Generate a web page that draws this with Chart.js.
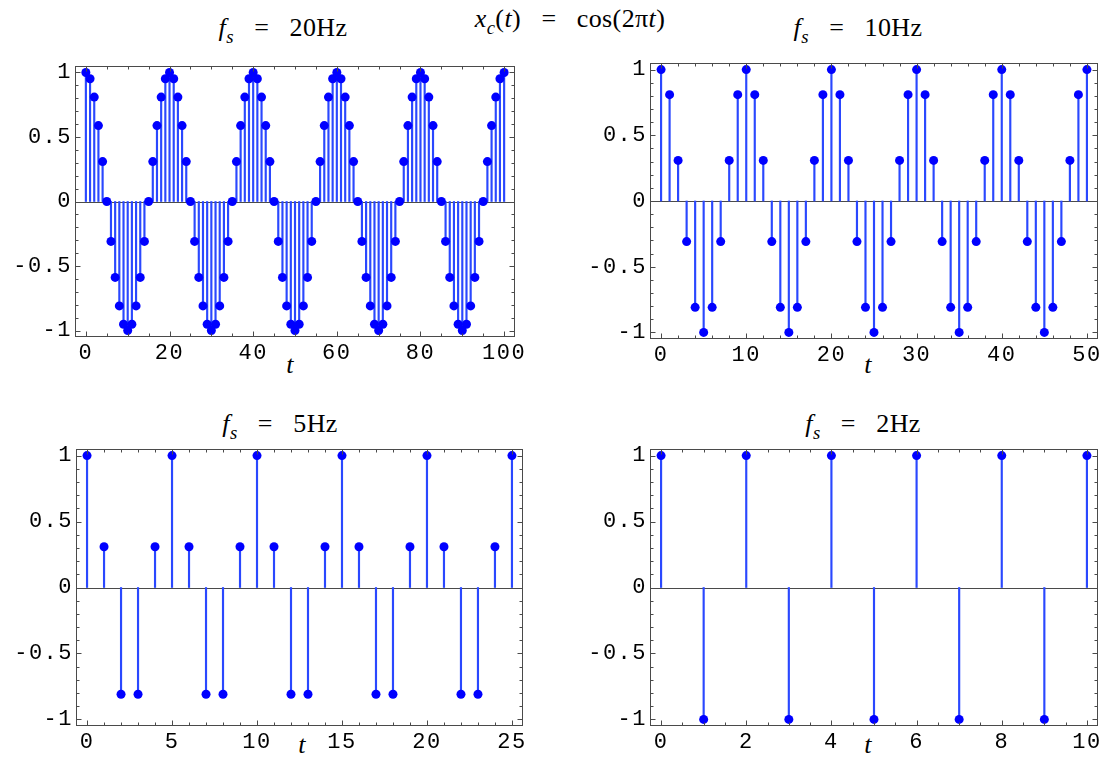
<!DOCTYPE html>
<html>
<head>
<meta charset="utf-8">
<script src="https://cdn.jsdelivr.net/npm/chart.js@4"></script>
<style>
html, body { margin: 0; padding: 0; background: #fff; overflow: hidden; }
#wrap { position: relative; width: 1107px; height: 760px; overflow: hidden; }
canvas { position: absolute; }
.txt {
    position: absolute;
    font-family: "Liberation Serif", "Times New Roman", serif;
    font-size: 26px;
    line-height: 26px;
    letter-spacing: 0.4px;
    white-space: nowrap;
    transform: translateX(-50%);
    color: #000;
}
.txt sub { font-size: 0.72em; vertical-align: -0.35em; line-height: 0; }
</style>
</head>
<body>
<div id="wrap">
    <div class="txt" style="left:570px; top:6px;"><i>x</i><sub><i>c</i></sub>(<i>t</i>) &ensp;=&ensp; cos(2π<i>t</i>)</div>
    <div class="txt" style="left:283px; top:15px;"><i>f</i><sub><i>s</i></sub> &ensp;=&ensp; 20Hz</div>
    <div class="txt" style="left:858px; top:15px;"><i>f</i><sub><i>s</i></sub> &ensp;=&ensp; 10Hz</div>
    <div class="txt" style="left:280px; top:411px;"><i>f</i><sub><i>s</i></sub> &ensp;=&ensp; 5Hz</div>
    <div class="txt" style="left:863px; top:411px;"><i>f</i><sub><i>s</i></sub> &ensp;=&ensp; 2Hz</div>
    <div class="txt" style="left:290px; top:352px;"><i>t</i></div>
    <div class="txt" style="left:868px; top:352px;"><i>t</i></div>
    <div class="txt" style="left:302px; top:732px;"><i>t</i></div>
    <div class="txt" style="left:868px; top:732px;"><i>t</i></div>
    <canvas id="c20"></canvas>
    <canvas id="c10"></canvas>
    <canvas id="c5"></canvas>
    <canvas id="c2"></canvas>
</div>
<script>
const t20 = [
    0, 1, 2, 3, 4, 5, 6, 7, 8, 9, 10, 11, 12, 13, 14, 15, 16, 17, 18, 19,
    20, 21, 22, 23, 24, 25, 26, 27, 28, 29, 30, 31, 32, 33, 34, 35, 36, 37, 38, 39,
    40, 41, 42, 43, 44, 45, 46, 47, 48, 49, 50, 51, 52, 53, 54, 55, 56, 57, 58, 59,
    60, 61, 62, 63, 64, 65, 66, 67, 68, 69, 70, 71, 72, 73, 74, 75, 76, 77, 78, 79,
    80, 81, 82, 83, 84, 85, 86, 87, 88, 89, 90, 91, 92, 93, 94, 95, 96, 97, 98, 99,
    100
];
const x20 = [
    1, 0.951, 0.809, 0.588, 0.309, 0, -0.309, -0.588, -0.809, -0.951, -1, -0.951, -0.809, -0.588, -0.309, 0, 0.309, 0.588, 0.809, 0.951,
    1, 0.951, 0.809, 0.588, 0.309, 0, -0.309, -0.588, -0.809, -0.951, -1, -0.951, -0.809, -0.588, -0.309, 0, 0.309, 0.588, 0.809, 0.951,
    1, 0.951, 0.809, 0.588, 0.309, 0, -0.309, -0.588, -0.809, -0.951, -1, -0.951, -0.809, -0.588, -0.309, 0, 0.309, 0.588, 0.809, 0.951,
    1, 0.951, 0.809, 0.588, 0.309, 0, -0.309, -0.588, -0.809, -0.951, -1, -0.951, -0.809, -0.588, -0.309, 0, 0.309, 0.588, 0.809, 0.951,
    1, 0.951, 0.809, 0.588, 0.309, 0, -0.309, -0.588, -0.809, -0.951, -1, -0.951, -0.809, -0.588, -0.309, 0, 0.309, 0.588, 0.809, 0.951,
    1
];

const t10 = [
    0, 1, 2, 3, 4, 5, 6, 7, 8, 9, 10, 11, 12, 13, 14, 15, 16, 17, 18, 19,
    20, 21, 22, 23, 24, 25, 26, 27, 28, 29, 30, 31, 32, 33, 34, 35, 36, 37, 38, 39,
    40, 41, 42, 43, 44, 45, 46, 47, 48, 49, 50
];
const x10 = [
    1, 0.809, 0.309, -0.309, -0.809, -1, -0.809, -0.309, 0.309, 0.809,
    1, 0.809, 0.309, -0.309, -0.809, -1, -0.809, -0.309, 0.309, 0.809,
    1, 0.809, 0.309, -0.309, -0.809, -1, -0.809, -0.309, 0.309, 0.809,
    1, 0.809, 0.309, -0.309, -0.809, -1, -0.809, -0.309, 0.309, 0.809,
    1, 0.809, 0.309, -0.309, -0.809, -1, -0.809, -0.309, 0.309, 0.809,
    1
];

const t5 = [0, 1, 2, 3, 4, 5, 6, 7, 8, 9, 10, 11, 12, 13, 14, 15, 16, 17, 18, 19, 20, 21, 22, 23, 24, 25];
const x5 = [
    1, 0.309, -0.809, -0.809, 0.309,
    1, 0.309, -0.809, -0.809, 0.309,
    1, 0.309, -0.809, -0.809, 0.309,
    1, 0.309, -0.809, -0.809, 0.309,
    1, 0.309, -0.809, -0.809, 0.309,
    1
];

const t2 = [0, 1, 2, 3, 4, 5, 6, 7, 8, 9, 10];
const x2 = [1, -1, 1, -1, 1, -1, 1, -1, 1, -1, 1];

// tick labels
const yTicks = [-1, -0.5, 0, 0.5, 1];
const xTicks20 = [0, 20, 40, 60, 80, 100];
const xTicks10 = [0, 10, 20, 30, 40, 50];
const xTicks5 = [0, 5, 10, 15, 20, 25];
const xTicks2 = [0, 2, 4, 6, 8, 10];

const FRAME = '#4a4a4a';
const STEM = '#2a48ff';
const DOT = '#0000ff';

// Mathematica style frame: box, zero axis, inward ticks on every side
const framePlugin = {
    id: 'frame',
    beforeDraw(chart) {
        chart.ctx.letterSpacing = '1.5px';
    },
    beforeDatasetsDraw(chart) {
        const { ctx, chartArea: a, scales: { y } } = chart;
        const y0 = Math.round(y.getPixelForValue(0)) + 0.5;
        ctx.save();
        ctx.strokeStyle = FRAME;
        ctx.lineWidth = 1;
        ctx.beginPath();
        ctx.moveTo(a.left, y0);
        ctx.lineTo(a.right, y0);
        ctx.stroke();
        ctx.restore();
    },
    afterDatasetsDraw(chart) {
        const { ctx, chartArea: a, scales: { x, y } } = chart;
        const p = chart.config.options.plugins.frame;
        const L = Math.round(a.left) + 0.5, R = Math.round(a.right) - 0.5;
        const T = Math.round(a.top) + 0.5, B = Math.round(a.bottom) - 0.5;
        ctx.save();
        ctx.strokeStyle = FRAME;
        ctx.lineWidth = 1;
        ctx.strokeRect(L, T, R - L, B - T);
        ctx.beginPath();
        // x ticks, top and bottom
        const x0 = p.xMajor[0], x1 = p.xMajor[p.xMajor.length - 1];
        const nx = Math.round((x1 - x0) / p.xMinor);
        for (let i = 0; i <= nx; i++) {
            const v = x0 + i * p.xMinor;
            const major = p.xMajor.some(m => Math.abs(m - v) < 1e-6);
            const len = major ? 5 : 3;
            const px = Math.round(x.getPixelForValue(v)) + 0.5;
            ctx.moveTo(px, B); ctx.lineTo(px, B - len);
            ctx.moveTo(px, T); ctx.lineTo(px, T + len);
        }
        // y ticks, left and right
        for (let i = 0; i <= 20; i++) {
            const v = -1 + i * 0.1;
            const major = i % 5 === 0;
            const len = major ? 5 : 3;
            const py = Math.round(y.getPixelForValue(v)) + 0.5;
            ctx.moveTo(L, py); ctx.lineTo(L + len, py);
            ctx.moveTo(R, py); ctx.lineTo(R - len, py);
        }
        ctx.stroke();
        ctx.restore();
    },
    afterDraw(chart) {
        chart.ctx.letterSpacing = '0px';
    }
};

function stemPanel(id, t, vals, xTicks, xMinor, xMin, xMax, box, area) {
    const cv = document.getElementById(id);
    cv.width = box.w;
    cv.height = box.h;
    cv.style.left = box.x + 'px';
    cv.style.top = box.y + 'px';
    const pts = t.map((v, i) => ({ x: v, y: vals[i] }));
    const tickFont = { family: '"Liberation Mono", "Courier New", monospace', size: 22 };

    return new Chart(cv, {
        type: 'scatter',
        data: {
            datasets: [
                {
                    type: 'scatter',
                    data: pts,
                    pointRadius: 4.5,
                    pointHoverRadius: 4.5,
                    backgroundColor: DOT,
                    borderWidth: 0,
                    order: 0
                },
                {
                    type: 'bar',
                    data: pts,
                    backgroundColor: STEM,
                    barThickness: 1.5,
                    order: 1
                }
            ]
        },
        options: {
            responsive: false,
            animation: false,
            devicePixelRatio: 1,
            layout: {
                padding: {
                    left: 0,
                    right: box.x + box.w - area.r,
                    top: area.t - box.y,
                    bottom: 0
                }
            },
            plugins: {
                legend: { display: false },
                tooltip: { enabled: false },
                frame: { xMajor: xTicks, xMinor: xMinor }
            },
            scales: {
                x: {
                    type: 'linear',
                    min: xMin,
                    max: xMax,
                    offset: false,
                    grid: { display: false, drawTicks: false },
                    border: { display: false },
                    afterBuildTicks: s => { s.ticks = xTicks.map(v => ({ value: v })); },
                    afterFit: s => { s.height = box.y + box.h - area.b; },
                    ticks: {
                        autoSkip: false,
                        maxRotation: 0,
                        padding: 3,
                        color: '#000',
                        font: tickFont,
                        callback: v => String(v)
                    }
                },
                y: {
                    type: 'linear',
                    min: -1.05,
                    max: 1.05,
                    grid: { display: false, drawTicks: false },
                    border: { display: false },
                    afterBuildTicks: s => { s.ticks = yTicks.map(v => ({ value: v })); },
                    afterFit: s => { s.width = area.l - box.x; },
                    ticks: {
                        padding: 3,
                        color: '#000',
                        font: tickFont,
                        callback: v => String(v)
                    }
                }
            }
        },
        plugins: [framePlugin]
    });
}

stemPanel('c20', t20, x20, xTicks20, 5, -2.6, 102.6,
    { x: 0, y: 40, w: 553, h: 345 }, { l: 75, r: 515, t: 66, b: 337 });
stemPanel('c10', t10, x10, xTicks10, 2, -1.3, 51.3,
    { x: 553, y: 40, w: 580, h: 345 }, { l: 650, r: 1098, t: 63, b: 339 });
stemPanel('c5', t5, x5, xTicks5, 1, -0.65, 25.65,
    { x: 0, y: 420, w: 553, h: 340 }, { l: 76, r: 523, t: 449, b: 726 });
stemPanel('c2', t2, x2, xTicks2, 0.5, -0.26, 10.26,
    { x: 553, y: 420, w: 580, h: 340 }, { l: 650, r: 1098, t: 449, b: 726 });
</script>
</body>
</html>
